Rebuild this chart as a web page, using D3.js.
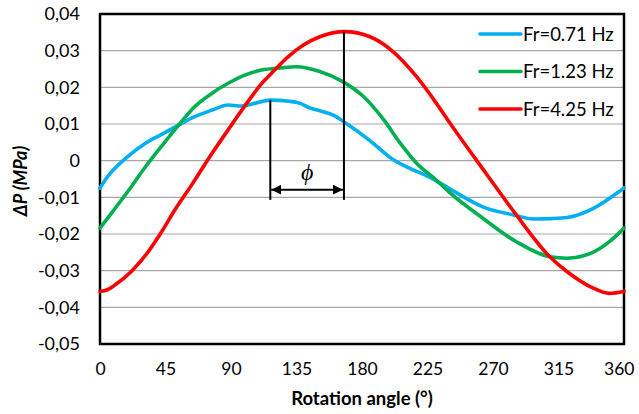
<!DOCTYPE html>
<html>
<head>
<meta charset="utf-8">
<script src="https://cdn.jsdelivr.net/npm/d3@7"></script>
<style>
  html, body { margin: 0; padding: 0; background: #fff; }
  svg { display: block; font-family: Lato, "Open Sans", sans-serif; }
</style>
</head>
<body>
<div id="chart"></div>
<script>
// x ticks (degrees) and y ticks (MPa)
const xTicks = [0, 45, 90, 135, 180, 225, 270, 315, 360];
const yTicks = [-0.05, -0.04, -0.03, -0.02, -0.01, 0, 0.01, 0.02, 0.03, 0.04];

// Fr = 0.71 Hz
const blueAngles = [0, 4, 19, 31, 42, 54, 65, 77, 88, 97, 111, 117, 130, 137, 144, 151, 160, 169, 185, 201, 215, 225, 235, 245, 263, 284, 298, 310, 321, 339, 355, 360];
const blueValues = [-0.0075, -0.0050, 0.0011, 0.0047, 0.0071, 0.0097, 0.0120, 0.0138, 0.0152, 0.0149, 0.0161, 0.0165, 0.0162, 0.0157, 0.0144, 0.0136, 0.0125, 0.0102, 0.0056, 0.0004, -0.0025, -0.0042, -0.0064, -0.0088, -0.0126, -0.0148, -0.0159, -0.0158, -0.0155, -0.0130, -0.0089, -0.0074];

// Fr = 1.23 Hz
const greenAngles = [0, 10, 19.5, 31, 42, 54, 65, 77, 88, 100, 111, 124, 135, 151, 167, 181, 195, 206, 217.5, 231, 240.5, 263, 286, 309, 321, 337, 350, 360];
const greenValues = [-0.0184, -0.0132, -0.0082, -0.0018, 0.0038, 0.0097, 0.0147, 0.0184, 0.0211, 0.0234, 0.0247, 0.0253, 0.0256, 0.0243, 0.0215, 0.0175, 0.0111, 0.0049, -0.0007, -0.0053, -0.0088, -0.0157, -0.0221, -0.0262, -0.0266, -0.0253, -0.0221, -0.0184];

// Fr = 4.25 Hz
const redAngles = [0, 5, 10, 22, 33, 42, 51.5, 63, 77, 88, 100, 111, 120, 128, 140, 151, 168, 185.5, 201.5, 217.5, 231, 240.5, 266, 286, 309, 321, 337, 350, 360];
const redValues = [-0.0357, -0.0352, -0.0340, -0.0300, -0.0249, -0.0196, -0.0134, -0.0066, 0.0020, 0.0084, 0.0152, 0.0210, 0.0247, 0.0279, 0.0316, 0.0338, 0.0352, 0.0338, 0.0297, 0.0229, 0.0157, 0.0102, -0.0039, -0.0148, -0.0262, -0.0303, -0.0344, -0.0362, -0.0357];

const seriesNames = ['Fr=0.71 Hz', 'Fr=1.23 Hz', 'Fr=4.25 Hz'];
const seriesColors = ['#00B0F0', '#00B050', '#FF0000'];

// phase shift marker: angle of each peak and the value where its line starts
const phiAngles = [117, 167.6];
const phiTops = [0.0165, 0.0352];
const phiBottom = -0.0107;
const phiArrowValue = -0.0079;

const W = 639, H = 414;
const margin = { top: 14, right: 15, bottom: 70, left: 100 };
const innerW = W - margin.left - margin.right;
const innerH = H - margin.top - margin.bottom;

const svg = d3.select('#chart').append('svg')
  .attr('width', W)
  .attr('height', H)
  .attr('viewBox', [0, 0, W, H]);

const x = d3.scaleLinear().domain([0, 360]).range([margin.left, margin.left + innerW]);
const y = d3.scaleLinear().domain([-0.05, 0.04]).range([margin.top + innerH, margin.top]);

// Excel style: comma decimals, plain hyphen for minus
const fmt = (v) => (Math.abs(v) < 1e-9 ? '0' : (v < 0 ? '-' : '') + Math.abs(v).toFixed(2).replace('.', ','));

// grid lines
svg.append('g')
  .selectAll('line')
  .data(yTicks.filter((t) => t > -0.05 && t < 0.04))
  .join('line')
  .attr('x1', x(0)).attr('x2', x(360))
  .attr('y1', (d) => y(d)).attr('y2', (d) => y(d))
  .attr('stroke', '#a6a6a6')
  .attr('stroke-width', 1.2);

// y axis labels
const yAxis = d3.axisLeft(y).tickValues(yTicks).tickFormat(fmt).tickSize(0).tickPadding(20);
svg.append('g')
  .attr('transform', `translate(${margin.left},0)`)
  .call(yAxis)
  .call((g) => g.select('.domain').remove())
  .call((g) => g.selectAll('text')
    .attr('font-family', 'Lato, sans-serif')
    .attr('font-size', 18)
    .attr('fill', '#000'));

// x axis labels; last one kept inside the page like Excel does
const xAxis = d3.axisBottom(x).tickValues(xTicks).tickSize(0).tickPadding(19);
svg.append('g')
  .attr('transform', `translate(0,${margin.top + innerH})`)
  .call(xAxis)
  .call((g) => g.select('.domain').remove())
  .call((g) => g.selectAll('text')
    .attr('font-family', 'Lato, sans-serif')
    .attr('font-size', 17.5)
    .attr('fill', '#000'))
  .call((g) => g.selectAll('.tick')
    .filter((d) => d === 360)
    .select('text')
    .attr('text-anchor', 'end')
    .attr('x', 10));

// plot frame
svg.append('rect')
  .attr('x', x(0)).attr('y', y(0.04))
  .attr('width', x(360) - x(0)).attr('height', y(-0.05) - y(0.04))
  .attr('fill', 'none')
  .attr('stroke', '#000')
  .attr('stroke-width', 2.5);

// series
const series = [
  { angles: blueAngles, values: blueValues },
  { angles: greenAngles, values: greenValues },
  { angles: redAngles, values: redValues }
];
const line = d3.line()
  .x((d) => x(d[0]))
  .y((d) => y(d[1]))
  .curve(d3.curveMonotoneX);

svg.append('g')
  .selectAll('path')
  .data(series)
  .join('path')
  .attr('d', (s) => line(s.angles.map((a, i) => [a, s.values[i]])))
  .attr('fill', 'none')
  .attr('stroke', (s, i) => seriesColors[i])
  .attr('stroke-width', 3.6)
  .attr('stroke-linecap', 'round')
  .attr('stroke-linejoin', 'round');

// phase annotation
const ann = svg.append('g');
phiAngles.forEach((a, i) => {
  ann.append('line')
    .attr('x1', x(a)).attr('x2', x(a))
    .attr('y1', y(phiTops[i])).attr('y2', y(phiBottom))
    .attr('stroke', '#000')
    .attr('stroke-width', 2);
});
svg.append('defs').append('marker')
  .attr('id', 'ah')
  .attr('viewBox', '0 0 10 10')
  .attr('refX', 10).attr('refY', 5)
  .attr('markerWidth', 5).attr('markerHeight', 5)
  .attr('orient', 'auto-start-reverse')
  .append('path')
  .attr('d', 'M0,0L10,5L0,10Z')
  .attr('fill', '#000');
ann.append('line')
  .attr('x1', x(phiAngles[0]) + 1).attr('x2', x(phiAngles[1]) - 1)
  .attr('y1', y(phiArrowValue)).attr('y2', y(phiArrowValue))
  .attr('stroke', '#000')
  .attr('stroke-width', 2)
  .attr('marker-start', 'url(#ah)')
  .attr('marker-end', 'url(#ah)');
ann.append('text')
  .attr('x', (x(phiAngles[0]) + x(phiAngles[1])) / 2)
  .attr('y', y(phiArrowValue) - 10)
  .attr('text-anchor', 'middle')
  .attr('font-family', '"Liberation Serif", serif')
  .attr('font-style', 'italic')
  .attr('font-size', 24)
  .text('\u03D5');

// legend
const legend = svg.append('g');
seriesNames.forEach((name, i) => {
  const ly = 34 + i * 37.5;
  legend.append('line')
    .attr('x1', 480).attr('x2', 521)
    .attr('y1', ly).attr('y2', ly)
    .attr('stroke', seriesColors[i])
    .attr('stroke-width', 3.6)
    .attr('stroke-linecap', 'round');
  legend.append('text')
    .attr('x', 523).attr('y', ly)
    .attr('dy', '0.36em')
    .attr('font-size', 18.5)
    .attr('fill', '#000')
    .text(name);
});

// axis titles
svg.append('text')
  .attr('x', x(180))
  .attr('y', 405)
  .attr('text-anchor', 'middle')
  .attr('font-weight', 'bold')
  .attr('font-size', 18.5)
  .text('Rotation angle (°)');

svg.append('text')
  .attr('transform', 'translate(27,181) rotate(-90)')
  .attr('text-anchor', 'middle')
  .attr('font-weight', 'bold')
  .attr('font-style', 'italic')
  .attr('font-size', 18)
  .text('ΔP (MPa)');
</script>
</body>
</html>
